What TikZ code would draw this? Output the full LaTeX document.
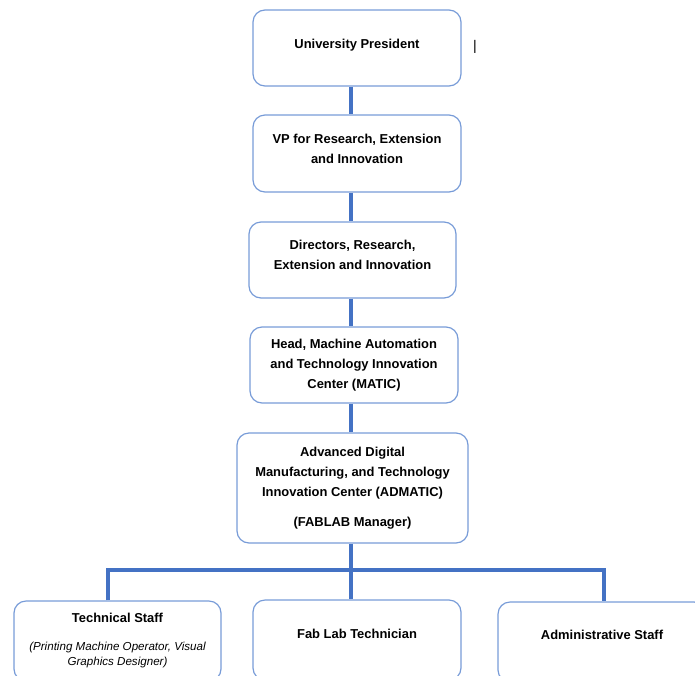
\documentclass[tikz,border=0pt]{standalone}
\usepackage{fontspec}
\setmainfont{Liberation Sans}
\definecolor{orgblue}{RGB}{68,114,196}
\definecolor{orgframe}{RGB}{120,156,216}
\usetikzlibrary{calc}

\begin{document}
\begin{tikzpicture}[x=0.75pt, y=-0.75pt,
  orgbox/.style={draw=orgframe, line width=0.9pt, fill=white, rounded corners=9pt,
    minimum width=156pt, minimum height=57pt, align=center, inner sep=2pt,
    font=\fontsize{9.7}{15}\selectfont\bfseries},
  link/.style={draw=orgblue, line width=2.6pt}]
\useasboundingbox (0,0) rectangle (695,675);
\clip (0,0) rectangle (695,675);

% Main chain
\node[orgbox, text depth=6.5pt] (pres) at (357,48) {University President};

\node[orgbox, minimum height=57.75pt, text depth=6.5pt] (vp) at (357,153.5) {VP for Research, Extension\\and Innovation};

\node[orgbox, minimum width=155.25pt, text depth=8.5pt] (dir) at (352.5,260) {Directors, Research,\\Extension and Innovation};

\node[orgbox] (head) at (354,365) {Head, Machine Automation\\and Technology Innovation\\Center (MATIC)};

\node[orgbox, minimum width=173.25pt, minimum height=82.5pt] (admatic) at (352.5,488)
  {Advanced Digital\\Manufacturing, and Technology\\Innovation Center (ADMATIC)\\[7.5pt](FABLAB Manager)};

\node[font=\fontsize{10.5}{12}\selectfont] (cursor) at (475,47) {|};

% Staff row
\node[orgbox, minimum width=155.25pt, minimum height=60pt,
  font=\fontsize{8.7}{11.25}\selectfont\itshape] (tech) at (117.5,641)
  {\textbf{\upshape\fontsize{9.7}{15}\selectfont Technical Staff}\\[9.75pt]%
   (Printing Machine Operator, Visual\\Graphics Designer)};

\node[orgbox, minimum height=60pt, text depth=10pt] (fab) at (357,640) {Fab Lab Technician};

\node[orgbox, minimum height=60pt, text depth=11.5pt] (admin) at (602,642) {Administrative Staff};

\coordinate (spine) at (351,0);
\coordinate (busL) at (108,570);
\coordinate (busR) at (604,570);

\draw[link] (pres.south -| spine) -- (vp.north -| spine);
\draw[link] (vp.south -| spine) -- (dir.north -| spine);
\draw[link] (dir.south -| spine) -- (head.north -| spine);
\draw[link] (head.south -| spine) -- (admatic.north -| spine);
\draw[link] (admatic.south -| spine) -- (fab.north -| spine);
\draw[link] (busL |- tech.north) -- (busL) -- (busR) -- (busR |- admin.north);

\end{tikzpicture}
\end{document}
